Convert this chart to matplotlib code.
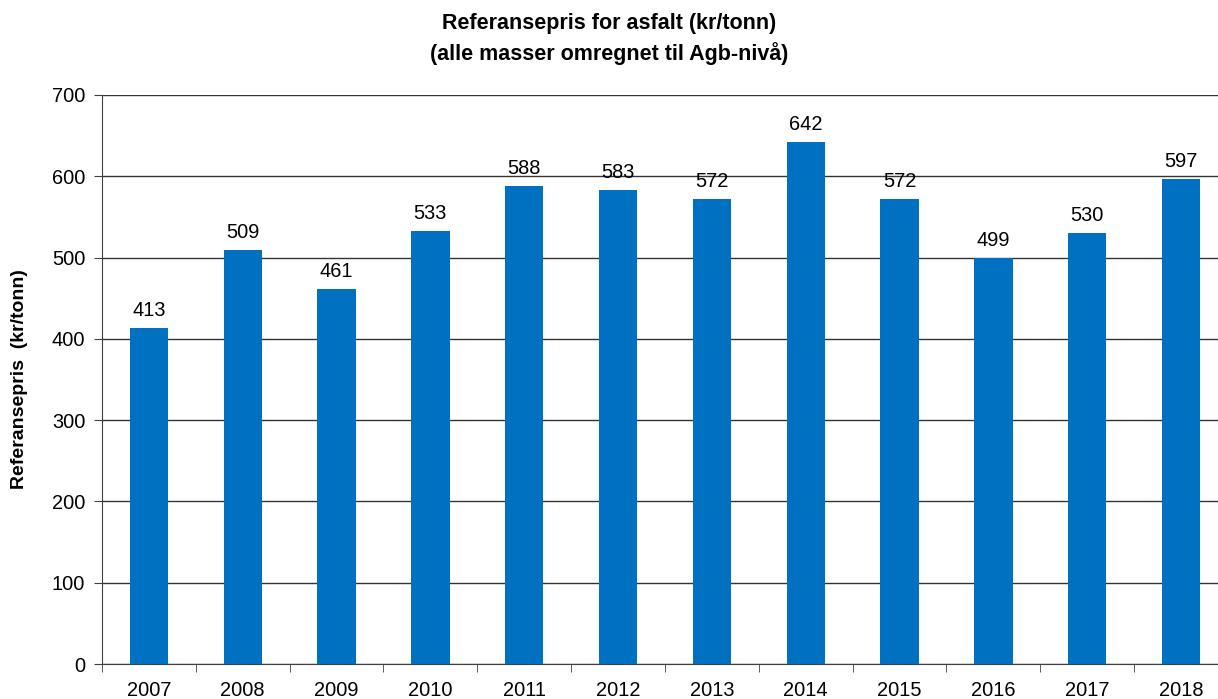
import matplotlib.pyplot as plt
import numpy as np

years = ["2007", "2008", "2009", "2010", "2011", "2012",
         "2013", "2014", "2015", "2016", "2017", "2018"]
prices = [413, 509, 461, 533, 588, 583, 572, 642, 572, 499, 530, 597]

plt.rcParams["font.family"] = ["Liberation Sans", "DejaVu Sans"]

fig = plt.figure(figsize=(12.18, 6.99), dpi=100)
ax = fig.add_axes([102 / 1218, 1 - 664 / 699, 1126 / 1218, 569 / 699])

x = np.arange(len(years))
ax.bar(x, prices, width=0.41, color="#0070C0", zorder=3)
for xi, v in zip(x, prices):
    ax.text(xi, v + 10, str(v), ha="center", va="bottom", fontsize=14.4)

ax.set_xlim(-0.5, len(years) - 0.5)
ax.set_ylim(0, 700)
ax.set_yticks(range(0, 701, 100))
ax.set_xticks(x)
ax.set_xticklabels(years)
ax.set_xticks(np.arange(-0.5, len(years), 1), minor=True)
ax.tick_params(axis="x", which="major", length=0, pad=12, labelsize=14.4)
ax.tick_params(axis="x", which="minor", length=6, direction="out", color="#404040")
ax.tick_params(axis="y", length=6, direction="out", labelsize=14.4, pad=6, color="#404040")

ax.yaxis.grid(True, color="#333333", linewidth=1, zorder=0)
for s in ["top", "right"]:
    ax.spines[s].set_visible(False)
ax.spines["left"].set_color("#404040")
ax.spines["bottom"].set_color("#404040")

ax.set_ylabel("Referansepris  (kr/tonn)", fontsize=14, fontweight="bold", labelpad=17)
fig.suptitle("Referansepris for asfalt (kr/tonn)\n(alle masser omregnet til Agb-nivå)",
             fontsize=15.5, fontweight="bold", y=0.982, linespacing=1.45)

fig.savefig("out.png", dpi=100)
